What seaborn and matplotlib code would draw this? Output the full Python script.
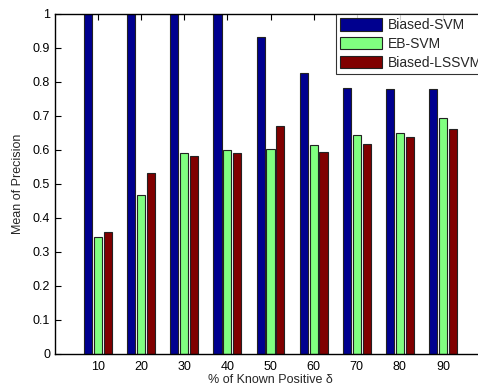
import matplotlib
matplotlib.use("Agg")
import matplotlib.pyplot as plt
import seaborn as sns
import pandas as pd

known_pct = [10, 20, 30, 40, 50, 60, 70, 80, 90]
methods = ["Biased-SVM", "EB-SVM", "Biased-LSSVM"]
biased_svm = [1.0, 1.0, 1.0, 1.0, 0.932, 0.826, 0.782, 0.779, 0.780]
eb_svm = [0.345, 0.467, 0.590, 0.600, 0.603, 0.614, 0.644, 0.650, 0.694]
biased_lssvm = [0.360, 0.532, 0.582, 0.592, 0.671, 0.594, 0.618, 0.638, 0.662]
colors = ["#00008F", "#80FF80", "#800000"]

rows = []
for m, vals in zip(methods, [biased_svm, eb_svm, biased_lssvm]):
    for x, v in zip(known_pct, vals):
        rows.append({"pct": x, "method": m, "value": v})
df = pd.DataFrame(rows)

sns.set_style("white")
plt.rcParams['font.family'] = ['Liberation Sans', 'DejaVu Sans']

fig = plt.figure(figsize=(4.78, 3.88), dpi=100)
ax = fig.add_axes([55/478, 34/388, 431/478, 340/388])

sns.barplot(data=df, x="pct", y="value", hue="method", hue_order=methods,
            palette=colors, saturation=1, native_scale=True, width=0.69, gap=0.19,
            edgecolor="#222222", linewidth=0.8, ax=ax, errorbar=None)

ax.set_xlim(0, 100)
ax.set_ylim(0, 1)
ax.set_xticks(known_pct)
ax.set_xticklabels([str(v) for v in known_pct])
yt = [0, 0.1, 0.2, 0.3, 0.4, 0.5, 0.6, 0.7, 0.8, 0.9, 1]
ax.set_yticks(yt)
ax.set_yticklabels(["0", "0.1", "0.2", "0.3", "0.4", "0.5", "0.6", "0.7", "0.8", "0.9", "1"])
ax.tick_params(axis="both", direction="in", length=4, width=0.8, labelsize=9,
               top=True, right=True, bottom=True, left=True, colors="black")
ax.tick_params(axis="x", pad=5)
for s in ax.spines.values():
    s.set_visible(True)
    s.set_color("black")
    s.set_linewidth(1.0)
ax.set_xlabel("% of Known Positive δ", fontsize=9, labelpad=1)
ax.set_ylabel("Mean of Precision", fontsize=9, labelpad=6)

leg = ax.legend(loc="upper right", bbox_to_anchor=(1.0, 1.0), fontsize=10,
                frameon=True, fancybox=False, edgecolor="black",
                handlelength=3.0, handleheight=1.0, borderpad=0.3,
                labelspacing=0.35, handletextpad=0.4, borderaxespad=0.0)
leg.get_frame().set_linewidth(0.8)

fig.savefig("out.png", dpi=100)
